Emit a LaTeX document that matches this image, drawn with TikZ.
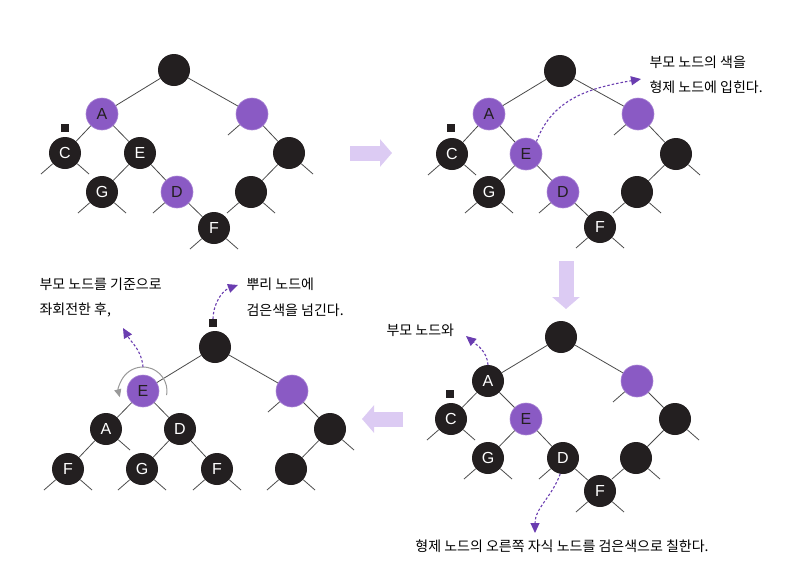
\documentclass[tikz,border=0pt]{standalone}
\usepackage{fontspec}
\setmainfont{Noto Sans CJK KR}
\newfontfamily\latinfont{Liberation Sans}
\usetikzlibrary{arrows.meta}
\definecolor{rbblack}{HTML}{231F20}
\definecolor{rbpurple}{HTML}{8A5AC4}
\definecolor{rbedge}{HTML}{4A4A4A}
\definecolor{notepurple}{HTML}{6A3DB0}
\definecolor{flowlav}{HTML}{DCCBF3}

\begin{document}
\begin{tikzpicture}[
      x=1pt, y=1pt,
      every node/.style={font=\fontsize{14}{16}\selectfont},
      rbnode/.style={circle, minimum size=32pt, inner sep=0pt, font=\latinfont\fontsize{16}{16}\selectfont},
      bnode/.style={rbnode, fill=rbblack, text=white},
      pnode/.style={rbnode, fill=rbpurple, draw=rbpurple!75!white, line width=0.6pt, text=rbblack},
      link/.style={draw=rbedge, line width=0.8pt},
      marker/.style={fill=rbblack, minimum size=8pt, inner sep=0pt},
      note/.style={draw=notepurple, dash pattern=on 2.5pt off 2pt, line width=1.1pt,
        -{Triangle[length=10pt, width=9pt, fill=notepurple]}},
      rotarc/.style={draw=black!40, line width=1pt, -{Triangle[length=8pt, width=7pt, fill=black!40]}},
      flow/.style={draw=flowlav, line width=15pt, -{Triangle[length=12pt, width=27pt, fill=flowlav]}},
    ]
    \useasboundingbox (0,0) rectangle (785,-576);

    % panel 1
    \node[bnode] (aR) at (174,-70) {};
    \node[pnode] (aA) at (102,-114) {A};
    \node[pnode] (aS) at (252,-114) {};
    \node[bnode] (aC) at (65,-153) {C};
    \node[bnode] (aE) at (140,-153) {E};
    \node[bnode] (aN) at (289,-153) {};
    \node[bnode] (aG) at (102,-192) {G};
    \node[pnode] (aD) at (177,-192) {D};
    \node[bnode] (aM) at (251,-192) {};
    \node[bnode] (aF) at (214,-228) {F};
    \node[marker] (aMark) at (65,-128) {};

    % panel 2
    \node[bnode] (bR) at (560,-71) {};
    \node[pnode] (bA) at (489,-114) {A};
    \node[pnode] (bS) at (638,-114) {};
    \node[bnode] (bC) at (452,-154) {C};
    \node[pnode] (bE) at (526,-154) {E};
    \node[bnode] (bN) at (676,-154) {};
    \node[bnode] (bG) at (489,-192) {G};
    \node[pnode] (bD) at (563,-192) {D};
    \node[bnode] (bM) at (637,-192) {};
    \node[bnode] (bF) at (600,-227) {F};
    \node[marker] (bMark) at (451,-128) {};

    % panel 3 (after rotation)
    \node[bnode] (cR) at (215,-347) {};
    \node[pnode] (cE) at (143,-391) {E};
    \node[pnode] (cS) at (292,-391) {};
    \node[bnode] (cA) at (106,-429) {A};
    \node[bnode] (cD) at (180,-429) {D};
    \node[bnode] (cN) at (330,-429) {};
    \node[bnode] (cF) at (68,-469) {F};
    \node[bnode] (cG) at (142,-469) {G};
    \node[bnode] (cF2) at (217,-469) {F};
    \node[bnode] (cM) at (291,-469) {};
    \node[marker] (cMark) at (213,-323) {};

    % panel 4
    \node[bnode] (dR) at (561,-337) {};
    \node[bnode] (dA) at (488,-381) {A};
    \node[pnode] (dS) at (637,-381) {};
    \node[bnode] (dC) at (451,-419) {C};
    \node[pnode] (dE) at (526,-419) {E};
    \node[bnode] (dN) at (675,-419) {};
    \node[bnode] (dG) at (488,-458) {G};
    \node[bnode] (dD) at (563,-458) {D};
    \node[bnode] (dM) at (636,-458) {};
    \node[bnode] (dF) at (600,-491) {F};
    \node[marker] (dMark) at (450,-394) {};

    % tree edges
    \foreach \p in {a, b, d} {
      \draw[link] (\p R) -- (\p A);
      \draw[link] (\p R) -- (\p S);
      \draw[link] (\p A) -- (\p C);
      \draw[link] (\p A) -- (\p E);
      \draw[link] (\p E) -- (\p G);
      \draw[link] (\p E) -- (\p D);
      \draw[link] (\p D) -- (\p F);
      \draw[link] (\p S) -- (\p N);
      \draw[link] (\p N) -- (\p M);
    }
    \draw[link] (cR) -- (cE);
    \draw[link] (cR) -- (cS);
    \draw[link] (cE) -- (cA);
    \draw[link] (cE) -- (cD);
    \draw[link] (cA) -- (cF);
    \draw[link] (cD) -- (cG);
    \draw[link] (cD) -- (cF2);
    \draw[link] (cS) -- (cN);
    \draw[link] (cN) -- (cM);

    % nil stubs
    \foreach \n/\s/\dx in {aC/l/-24, aC/r/24, aG/l/-24, aG/r/24, aD/l/-24, aF/l/-24, aF/r/24,
        aS/l/-24, aN/r/24, aM/l/-24, aM/r/24,
        bC/l/-24, bC/r/24, bG/l/-24, bG/r/24, bD/l/-24, bF/l/-24, bF/r/24,
        bS/l/-24, bN/r/24, bM/l/-24, bM/r/24,
        dC/l/-24, dC/r/24, dG/l/-24, dG/r/24, dD/l/-24, dF/l/-24, dF/r/24,
        dS/l/-24, dN/r/24, dM/l/-24, dM/r/24,
        cA/r/24, cF/l/-24, cF/r/24, cG/l/-24, cG/r/24, cF2/l/-24, cF2/r/24,
        cS/l/-24, cN/r/24, cM/l/-24, cM/r/24} {
      \path (\n.center) ++(\dx,-21) coordinate (\n\s);
      \draw[link] (\n) -- (\n\s);
    }

    % notes
    \node[anchor=west] (bNote1) at (646,-62) {부모 노드의 색을};
    \node[anchor=west] (bNote2) at (646,-87) {형제 노드에 입힌다.};
    \coordinate (bTip) at (641,-79);
    \draw[note] (bE.50) to[out=70, in=190] (bTip);

    \node[anchor=west] (cNote1) at (36,-284) {부모 노드를 기준으로};
    \node[anchor=west] (cNote2) at (36,-310) {좌회전한 후,};
    \node[anchor=west] (cNote3) at (243,-284) {뿌리 노드에};
    \node[anchor=west] (cNote4) at (243,-310) {검은색을 넘긴다.};
    \path (cE.center) ++(0,24) coordinate (cArcTop);
    \coordinate (cTipRot) at (123,-328);
    \coordinate (cTipRoot) at (238,-285);
    \draw[rotarc] (cE.center) ++(-10:24) arc[start angle=-10, end angle=195, radius=24];
    \draw[note] (cArcTop) to[out=95, in=-60] (cTipRot);
    \draw[note] (cMark.north) to[out=88, in=200] (cTipRoot);

    \node[anchor=west] (dNote1) at (383,-330) {부모 노드와};
    \node (dNote2) at (562,-546) {형제 노드의 오른쪽 자식 노드를 검은색으로 칠한다.};
    \coordinate (dTipA) at (466,-336);
    \coordinate (dTipD) at (535,-533);
    \draw[note] (dA.north) to[out=95, in=-40] (dTipA);
    \draw[note] (dD.-100) to[out=-110, in=90] (dTipD);

    % flow between panels
    \coordinate (flowAs) at (350,-153);
    \coordinate (flowAe) at (392,-153);
    \coordinate (flowBs) at (566,-261);
    \coordinate (flowBe) at (566,-309);
    \coordinate (flowCs) at (403,-419);
    \coordinate (flowCe) at (362,-419);
    \draw[flow] (flowAs) -- (flowAe);
    \draw[flow] (flowBs) -- (flowBe);
    \draw[flow] (flowCs) -- (flowCe);
  \end{tikzpicture}
\end{document}
